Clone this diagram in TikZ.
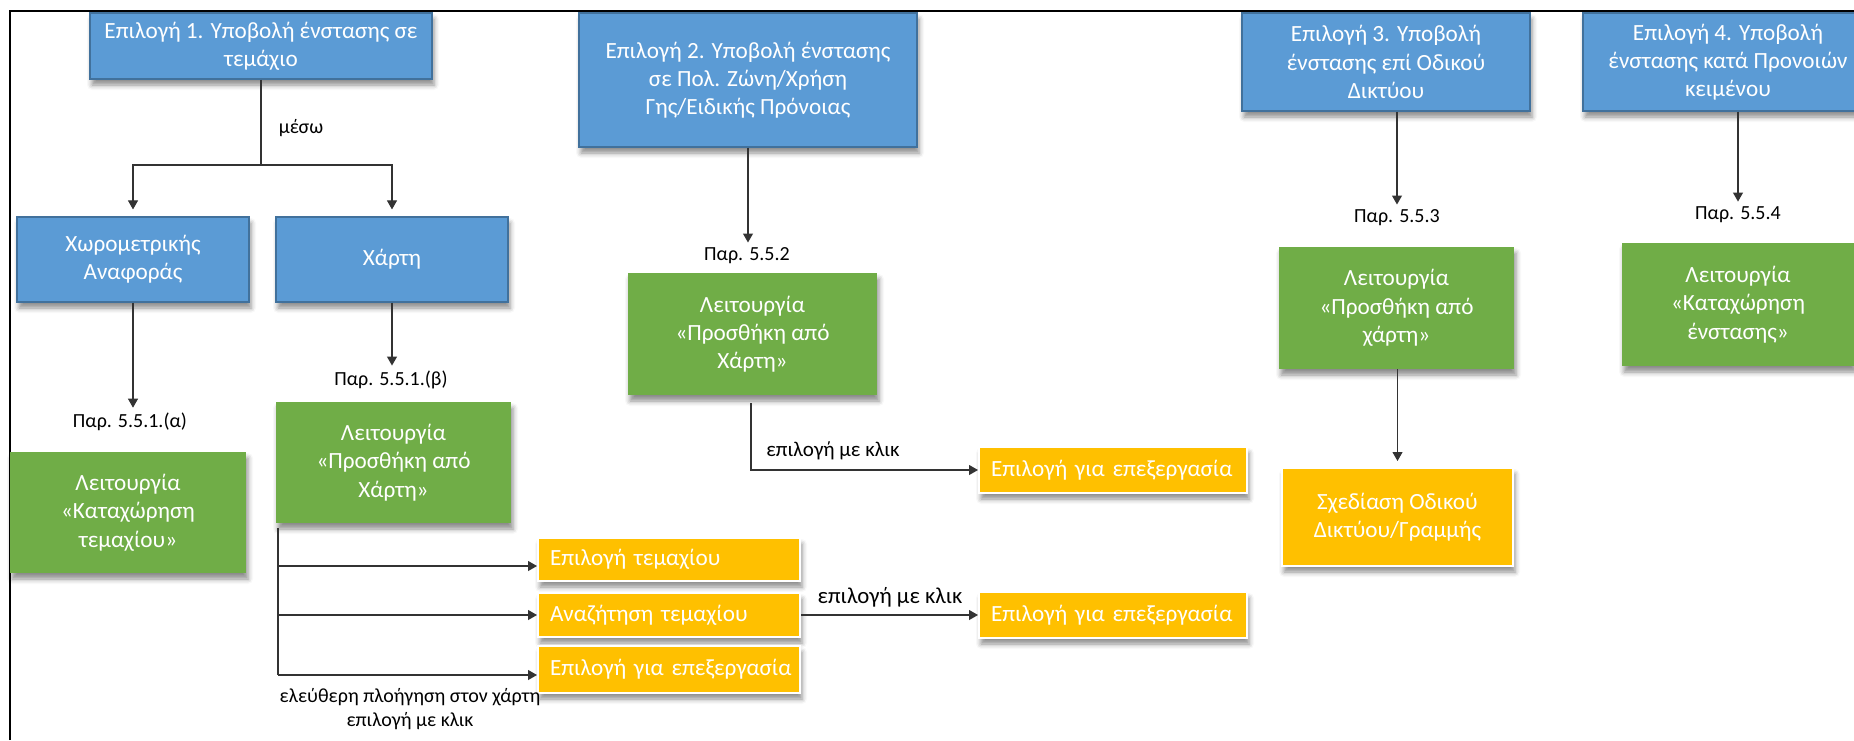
\documentclass[tikz,border=0pt]{standalone}
\usepackage{fontspec}
\setmainfont{Carlito}
\usetikzlibrary{arrows.meta, shadows.blur}
\newcommand{\pxsize}{0.5pt}
\newcommand{\boxfont}{\fontsize{11.6}{14.15}\selectfont}
\newcommand{\reffont}{\fontsize{10}{11.6}\selectfont}
\newcommand{\clickfont}{\fontsize{10.5}{12}\selectfont}
\newcommand{\clickbigfont}{\fontsize{11.4}{13}\selectfont}
\definecolor{optblue}{HTML}{5B9BD5}
\definecolor{optedge}{HTML}{41719C}
\definecolor{funcgreen}{HTML}{70AD47}
\definecolor{stepyellow}{HTML}{FFC000}

\begin{document}
\begin{tikzpicture}[x=\pxsize, y=-\pxsize]
\useasboundingbox (0,0) rectangle (1854,740);
\tikzstyle{every node}=[rectangle,
			inner sep=0pt,
			align=center
			]
\tikzstyle{softshadow}=[blur shadow={shadow xshift=1pt, shadow yshift=-3pt, shadow blur radius=2.5pt, shadow opacity=45}]
\tikzstyle{optbox}=[softshadow, fill=optblue, draw=optedge, line width=0.6pt, text=white, font=\boxfont]
\tikzstyle{funcbox}=[softshadow, fill=funcgreen, text=white, font=\boxfont]
\tikzstyle{yellowbox}=[softshadow, fill=stepyellow, draw=white, line width=1pt, text=white, font=\boxfont]
\tikzstyle{stepbox}=[yellowbox, align=left, inner xsep=12*\pxsize, text width=238*\pxsize]
\tikzstyle{reflabel}=[font=\reffont, text=black, inner sep=2*\pxsize]
\tikzstyle{plainline}=[draw=black!80, line width=0.55pt]
\tikzstyle{link}=[plainline, -{Triangle[width=5pt, length=4.5pt]}]

\draw[line width=1.2pt] (10,740) -- (10,11) -- (1854,11);

\node[optbox, minimum width=342*\pxsize, minimum height=66*\pxsize] (opt1) at (261,46) {Επιλογή 1. Υποβολή ένστασης σε\\τεμάχιο};

\node[optbox, minimum width=232*\pxsize, minimum height=85*\pxsize] (survey) at (133,259.5) {Χωρομετρικής\\Αναφοράς};

\node[optbox, minimum width=232*\pxsize, minimum height=85*\pxsize] (mapview) at (392,259.5) {Χάρτη};

\node[optbox, minimum width=338*\pxsize, minimum height=134*\pxsize] (opt2) at (748,80) {Επιλογή 2. Υποβολή ένστασης\\σε Πολ. Ζώνη/Χρήση\\Γης/Ειδικής Πρόνοιας};

\node[optbox, minimum width=288*\pxsize, minimum height=98*\pxsize] (opt3) at (1386,62) {Επιλογή 3. Υποβολή\\ένστασης επί Οδικού\\Δικτύου};

\node[optbox, minimum width=290*\pxsize, minimum height=98*\pxsize] (opt4) at (1728,62) {Επιλογή 4. Υποβολή\\ένστασης κατά Προνοιών\\κειμένου};

\node[funcbox, minimum width=236*\pxsize, minimum height=121*\pxsize] (func1) at (128,512.5) {Λειτουργία\\«Καταχώρηση\\τεμαχίου»};

\node[funcbox, minimum width=235*\pxsize, minimum height=121*\pxsize] (func2) at (393.5,462.5) {Λειτουργία\\«Προσθήκη από\\Χάρτη»};

\node[funcbox, minimum width=249*\pxsize, minimum height=122*\pxsize] (func3) at (752.5,334) {Λειτουργία\\«Προσθήκη από\\Χάρτη»};

\node[funcbox, minimum width=235*\pxsize, minimum height=122*\pxsize] (func4) at (1396.5,308) {Λειτουργία\\«Προσθήκη από\\χάρτη»};

\node[funcbox, minimum width=232*\pxsize, minimum height=123*\pxsize] (func5) at (1738,304.5) {Λειτουργία\\«Καταχώρηση\\ένστασης»};

\node[stepbox, minimum height=43*\pxsize] (pick) at (669,559.5) {Επιλογή~τεμαχίου};

\node[stepbox, minimum height=44*\pxsize] (search) at (669,615) {Αναζήτηση~τεμαχίου};

\node[stepbox, minimum height=47*\pxsize] (edit) at (669,669.5) {Επιλογή~για~επεξεργασία};

\node[stepbox, text width=244*\pxsize, minimum height=46*\pxsize] (editmap) at (1113,470) {Επιλογή~για~επεξεργασία};

\node[stepbox, text width=244*\pxsize, minimum height=46*\pxsize] (editsearch) at (1113,615) {Επιλογή~για~επεξεργασία};

\node[yellowbox, minimum width=231*\pxsize, minimum height=98*\pxsize] (roadnet) at (1397.5,517) {Σχεδίαση Οδικού\\Δικτύου/Γραμμής};

\node[reflabel] (via) at (301,128) {μέσω};

\node[reflabel] (refa) at (130,422) {Παρ. 5.5.1.(α)};

\node[reflabel] (refb) at (391,380) {Παρ. 5.5.1.(β)};

\node[reflabel] (ref2) at (747,256) {Παρ. 5.5.2};

\node[reflabel] (ref3) at (1397,218) {Παρ. 5.5.3};

\node[reflabel] (ref4) at (1738,215) {Παρ. 5.5.4};

\node[reflabel] (browse) at (410,709) {ελεύθερη πλοήγηση στον χάρτη\\επιλογή με κλικ};

\node[reflabel, font=\clickfont] (clickmap) at (833,451) {επιλογή με κλικ};

\node[reflabel, font=\clickbigfont] (clicksearch) at (890,597) {επιλογή με κλικ};

\coordinate (split) at (261,165);
\coordinate (trunk) at (278,528);
\coordinate (t1) at (278,566);
\coordinate (t2) at (278,615);
\coordinate (t3) at (278,675);
\coordinate (drop) at (751,403);

\draw[link, shorten >=3.5pt] (opt1.south) -- (split) -| (survey.north);

\draw[link, shorten >=3.5pt] (split) -| (mapview.north);

\draw[link, shorten >=1.5pt] (survey.south) -- (survey.south |- refa.north);

\draw[link, shorten >=1.5pt] (mapview.south) -- (mapview.south |- refb.north);

\draw[link, shorten >=1.5pt] (opt2.south) -- (opt2.south |- ref2.north);

\draw[link, shorten >=1.5pt] (ref3.north |- opt3.south) -- (ref3.north);

\draw[link, shorten >=1.5pt] (ref4.north |- opt4.south) -- (ref4.north);

\draw[link, shorten >=3pt] (roadnet.north |- func4.south) -- (roadnet.north);

\draw[plainline] (trunk) -- (t3);

\draw[link] (t1) -- (t1 -| pick.west);

\draw[link] (t2) -- (t2 -| search.west);

\draw[link] (t3) -- (t3 -| edit.west);

\draw[link] (drop) |- (editmap.west);

\draw[link] (search.east) -- (editsearch.west);

\end{tikzpicture}
\end{document}
